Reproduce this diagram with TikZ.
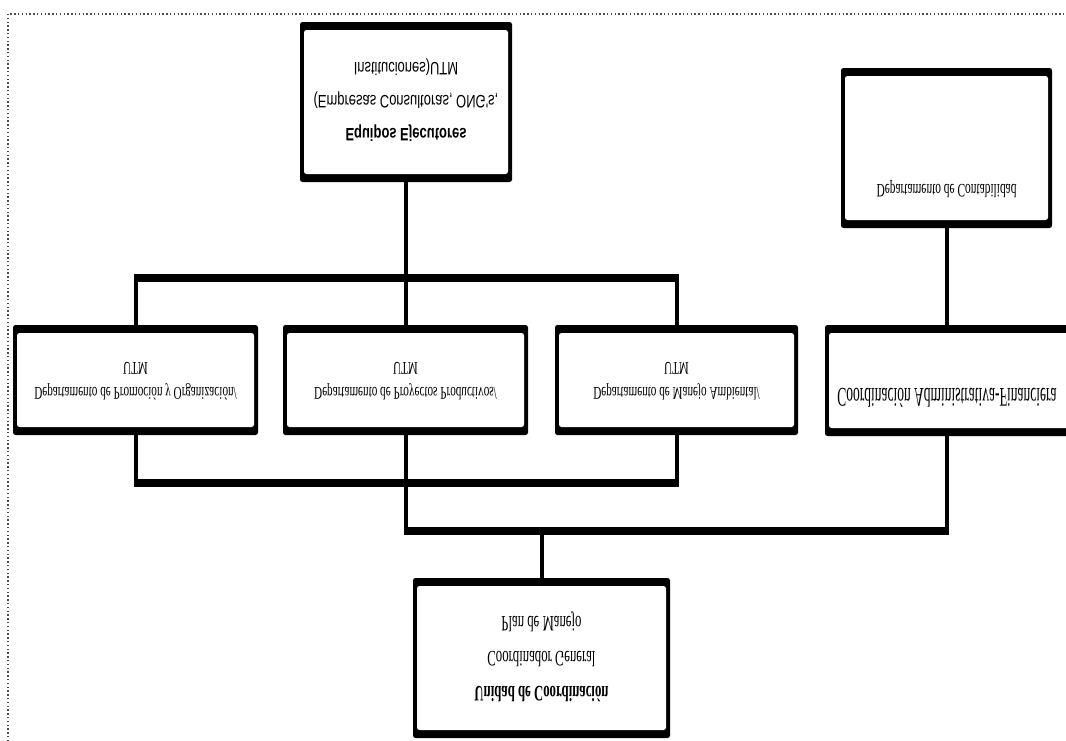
\documentclass[tikz,border=0pt]{standalone}
\usepackage{fontspec}
\setmainfont{Liberation Serif}
\newfontfamily\sansf{Liberation Sans}
\usetikzlibrary{calc}
\newcommand{\flipt}[4]{\scalebox{#1}[-1]{\fontsize{#2}{#3}\selectfont\begin{tabular}{@{}c@{}}#4\end{tabular}}}
\begin{document}
\begin{tikzpicture}[x=1pt,y=-1pt,
  box/.style={fill=black, rounded corners=2.5pt, inner sep=0pt, outer sep=0pt,
    path picture={\fill[white] ([shift={(4pt,8pt)}]path picture bounding box.south west) rectangle ([shift={(-4pt,-8pt)}]path picture bounding box.north east);}},
  lbl/.style={inner sep=0pt, text=black},
  hl/.style={line width=8pt, shorten <=-2pt, shorten >=-2pt},
  vl/.style={line width=4pt},
  frame/.style={dash pattern=on 1.4pt off 2.4pt, line width=1.4pt, black!70}]
\useasboundingbox (0,0) rectangle (1066,740);
\clip (0,0) rectangle (1066,740);
\draw[frame] (8,745) -- (8,14) -- (1070,14);

% boxes
\node[box, minimum width=212pt, minimum height=160pt] (eq) at (406,102)
  {\flipt{0.72}{18}{33}{{\sansf\bfseries Equipos Ejecutores}\\ \sansf (Empresas Consultoras, ONG's,\\ \sansf Instituciones)UTM}};
\node[box, minimum width=211pt, minimum height=160pt] (cont) at (946.5,148) {};
\node[lbl] (contt) at (946.5,189) {\flipt{0.60}{19}{25}{Departamento de Contabilidad}};

\node[box, minimum width=245pt, minimum height=110pt] (d1) at (135.5,380)
  {\flipt{0.62}{18}{25}{Departamento de Promoción y Organización/\\UTM}};
\node[box, minimum width=245pt, minimum height=110pt] (d2) at (405.5,380)
  {\flipt{0.62}{18}{25}{Departamento de Proyectos Productivos/\\UTM}};
\node[box, minimum width=243pt, minimum height=110pt] (d3) at (676.5,380)
  {\flipt{0.62}{18}{25}{Departamento de Manejo Ambiental/\\UTM}};
\node[box, minimum width=250pt, minimum height=111pt] (coord) at (950,380.5) {};
\node[lbl] (coordt) at (947,394) {\flipt{0.50}{27}{30}{Coordinación Administrativa-Financiera}};

\node[box, minimum width=257pt, minimum height=160pt] (uni) at (541.5,658)
  {\flipt{0.58}{22}{35}{\bfseries Unidad de Coordinación\\Coordinador General\\Plan de Manejo}};

% bar levels
\coordinate (ub) at (0,277.5);
\coordinate (ba) at (0,483);
\coordinate (bb) at (0,531);

% connectors
\draw[vl] (eq.south) -- (eq.south |- ub);
\draw[hl] (d1.north |- ub) -- (d3.north |- ub);
\draw[vl] (d1.north) -- (d1.north |- ub);
\draw[vl] (d2.north) -- (d2.north |- ub);
\draw[vl] (d3.north) -- (d3.north |- ub);

\draw[vl] (d1.south) -- (d1.south |- ba);
\draw[vl] (d3.south) -- (d3.south |- ba);
\draw[hl] (d1.south |- ba) -- (d3.south |- ba);

\draw[vl] (d2.south) -- (d2.south |- bb);
\draw[hl] (d2.south |- bb) -- (cont.south |- bb);
\draw[vl] (cont.south) -- (cont.south |- coord.north);
\draw[vl] (cont.south |- coord.south) -- (cont.south |- bb);
\draw[vl] (uni.north) -- (uni.north |- bb);
\end{tikzpicture}
\end{document}
